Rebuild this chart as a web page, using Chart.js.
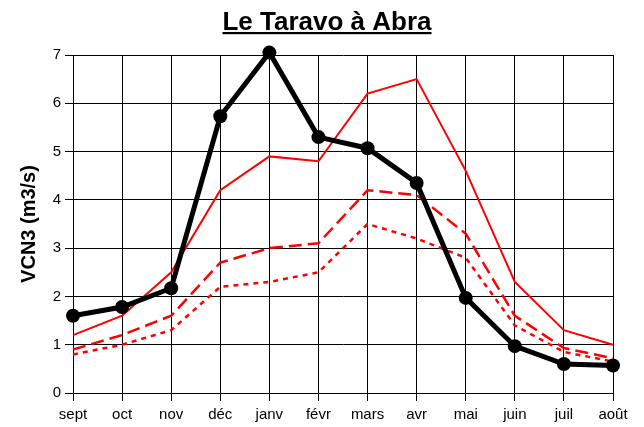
<!DOCTYPE html>
<html>
<head>
<meta charset="utf-8">
<script src="https://cdn.jsdelivr.net/npm/chart.js@4"></script>
<style>
html,body{margin:0;padding:0;background:#fff;}
#wrap{width:644px;height:427px;position:relative;}
</style>
</head>
<body>
<div id="wrap"><canvas id="c" width="644" height="427"></canvas></div>
<script>
const categories = ['sept','oct','nov','déc','janv','févr','mars','avr','mai','juin','juil','août'];
const observed   = [1.6, 1.78, 2.17, 5.73, 7.05, 5.3, 5.07, 4.35, 1.97, 0.97, 0.6, 0.57];
const serieSolid = [1.2, 1.6, 2.5, 4.2, 4.9, 4.8, 6.2, 6.5, 4.6, 2.3, 1.3, 1.0];
const serieDash  = [0.9, 1.2, 1.6, 2.7, 3.0, 3.1, 4.2, 4.1, 3.3, 1.6, 0.93, 0.72];
const serieDot   = [0.8, 1.0, 1.3, 2.2, 2.3, 2.5, 3.5, 3.2, 2.8, 1.4, 0.85, 0.65];
const yTicks     = [0, 1, 2, 3, 4, 5, 6, 7];
const titleText  = 'Le Taravo à Abra';
const yTitleText = 'VCN3 (m3/s)';

const FONT = '"Liberation Sans", Arial, sans-serif';

const titlePlugin = {
  id: 'underlinedTitle',
  afterDraw(chart) {
    const ctx = chart.ctx;
    ctx.save();
    ctx.font = 'bold 26px ' + FONT;
    ctx.fillStyle = '#000';
    ctx.textAlign = 'center';
    ctx.textBaseline = 'alphabetic';
    const cx = 327;
    ctx.fillText(titleText, cx, 30);
    const w = ctx.measureText(titleText).width;
    ctx.fillRect(cx - w / 2, 32, w, 2.2);
    ctx.restore();
  }
};

new Chart(document.getElementById('c'), {
  type: 'line',
  data: {
    labels: categories,
    datasets: [
      { data: observed, borderColor: '#000', backgroundColor: '#000', borderWidth: 5,
        pointRadius: 7, pointBackgroundColor: '#000', pointBorderWidth: 0, clip: false, tension: 0 },
      { data: serieSolid, borderColor: '#ff0000', borderWidth: 2, pointRadius: 0, clip: false },
      { data: serieDash, borderColor: '#ff0000', borderWidth: 2.5, borderDash: [13, 6], pointRadius: 0, clip: false },
      { data: serieDot, borderColor: '#ff0000', borderWidth: 2.5, borderDash: [5, 5], pointRadius: 0, clip: false }
    ]
  },
  options: {
    responsive: false,
    animation: false,
    events: [],
    layout: { padding: { right: 31, left: 0, bottom: 0, top: 55 } },
    plugins: {
      legend: { display: false },
      tooltip: { enabled: false },
      title: { display: false }
    },
    scales: {
      x: {
        offset: false,
        grid: { color: '#000', lineWidth: 1, tickLength: 8, drawTicks: true },
        border: { color: '#000', width: 1 },
        ticks: { color: '#000', padding: 5, maxRotation: 0, autoSkip: false,
          font: { family: FONT, size: 15 } },
        afterFit(s) { s.height = 34; }
      },
      y: {
        min: 0, max: 7,
        afterBuildTicks(s) { s.ticks = yTicks.map(v => ({ value: v })); },
        grid: { color: '#000', lineWidth: 1, tickLength: 8 },
        border: { color: '#000', width: 1 },
        ticks: { color: '#000', padding: 4,
          font: { family: FONT, size: 15 } },
        title: { display: true, text: yTitleText, color: '#000',
          font: { family: FONT, size: 20, weight: 'bold' },
          padding: { top: 17, bottom: 0 } },
        afterFit(s) { s.width = 73; }
      }
    }
  },
  plugins: [titlePlugin]
});
</script>
</body>
</html>
